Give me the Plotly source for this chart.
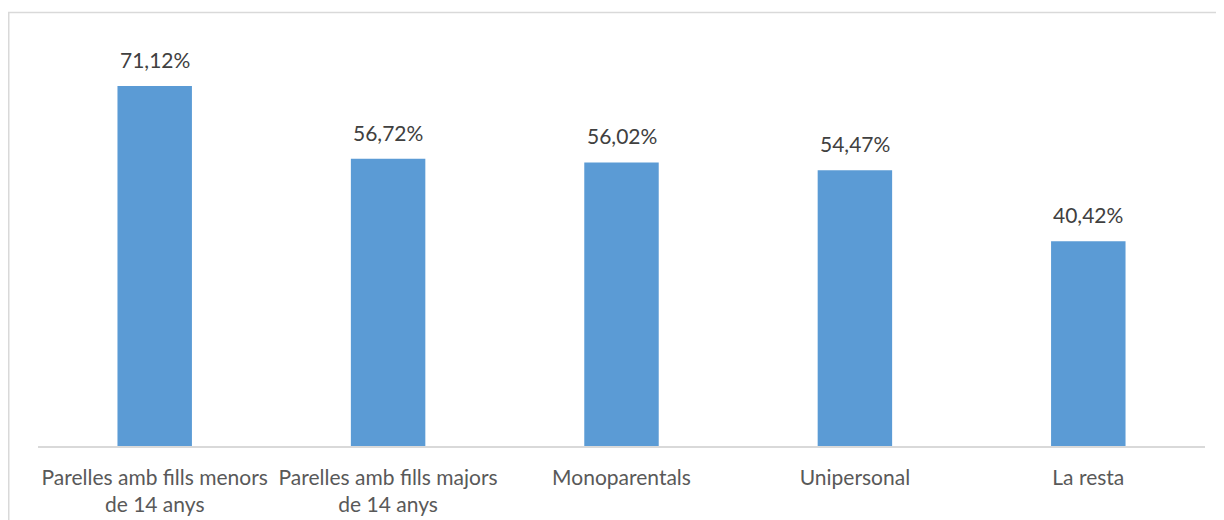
import plotly.graph_objects as go

categories = ["Parelles amb fills menors<br>de 14 anys",
              "Parelles amb fills majors<br>de 14 anys",
              "Monoparentals", "Unipersonal", "La resta"]
values = [71.12, 56.72, 56.02, 54.47, 40.42]
labels = ["71,12%", "56,72%", "56,02%", "54,47%", "40,42%"]

# page body has an 8px margin; figure placed at (8, 8)
W, H = 1216, 512
L, R, T, B = 30, 19, 33, 74
pw, ph = W - L - R, H - T - B

fig = go.Figure()
fig.add_trace(go.Bar(x=categories, y=values, marker=dict(color="#5B9BD5", line=dict(width=0)),
                     hoverinfo="skip"))

for c, v, t in zip(categories, values, labels):
    fig.add_annotation(x=c, y=v, text=t, showarrow=False, yanchor="bottom",
                       yshift=12, font=dict(family="Lato", size=21, color="#404040"))

fig.add_shape(type="rect", xref="paper", yref="paper",
              x0=(0.75 - L) / pw, x1=1.2, y0=-0.5, y1=1 + (T - 4.5) / ph,
              line=dict(color="#d9d9d9", width=1.5), fillcolor="rgba(0,0,0,0)", layer="below")

fig.update_layout(
    width=W, height=H, margin=dict(l=L, r=R, t=T, b=B),
    paper_bgcolor="white", plot_bgcolor="white",
    bargap=0.681, showlegend=False,
    xaxis=dict(showline=True, linecolor="#d9d9d9", linewidth=1.5, ticks="",
               tickfont=dict(family="Lato", size=21, color="#595959"),
               ticklabelstandoff=12, automargin=False,
               showgrid=False, zeroline=False, fixedrange=True),
    yaxis=dict(range=[0, 80], visible=False, showgrid=False, zeroline=False, fixedrange=True),
)
fig.write_html("out.html", config={"displayModeBar": False})
